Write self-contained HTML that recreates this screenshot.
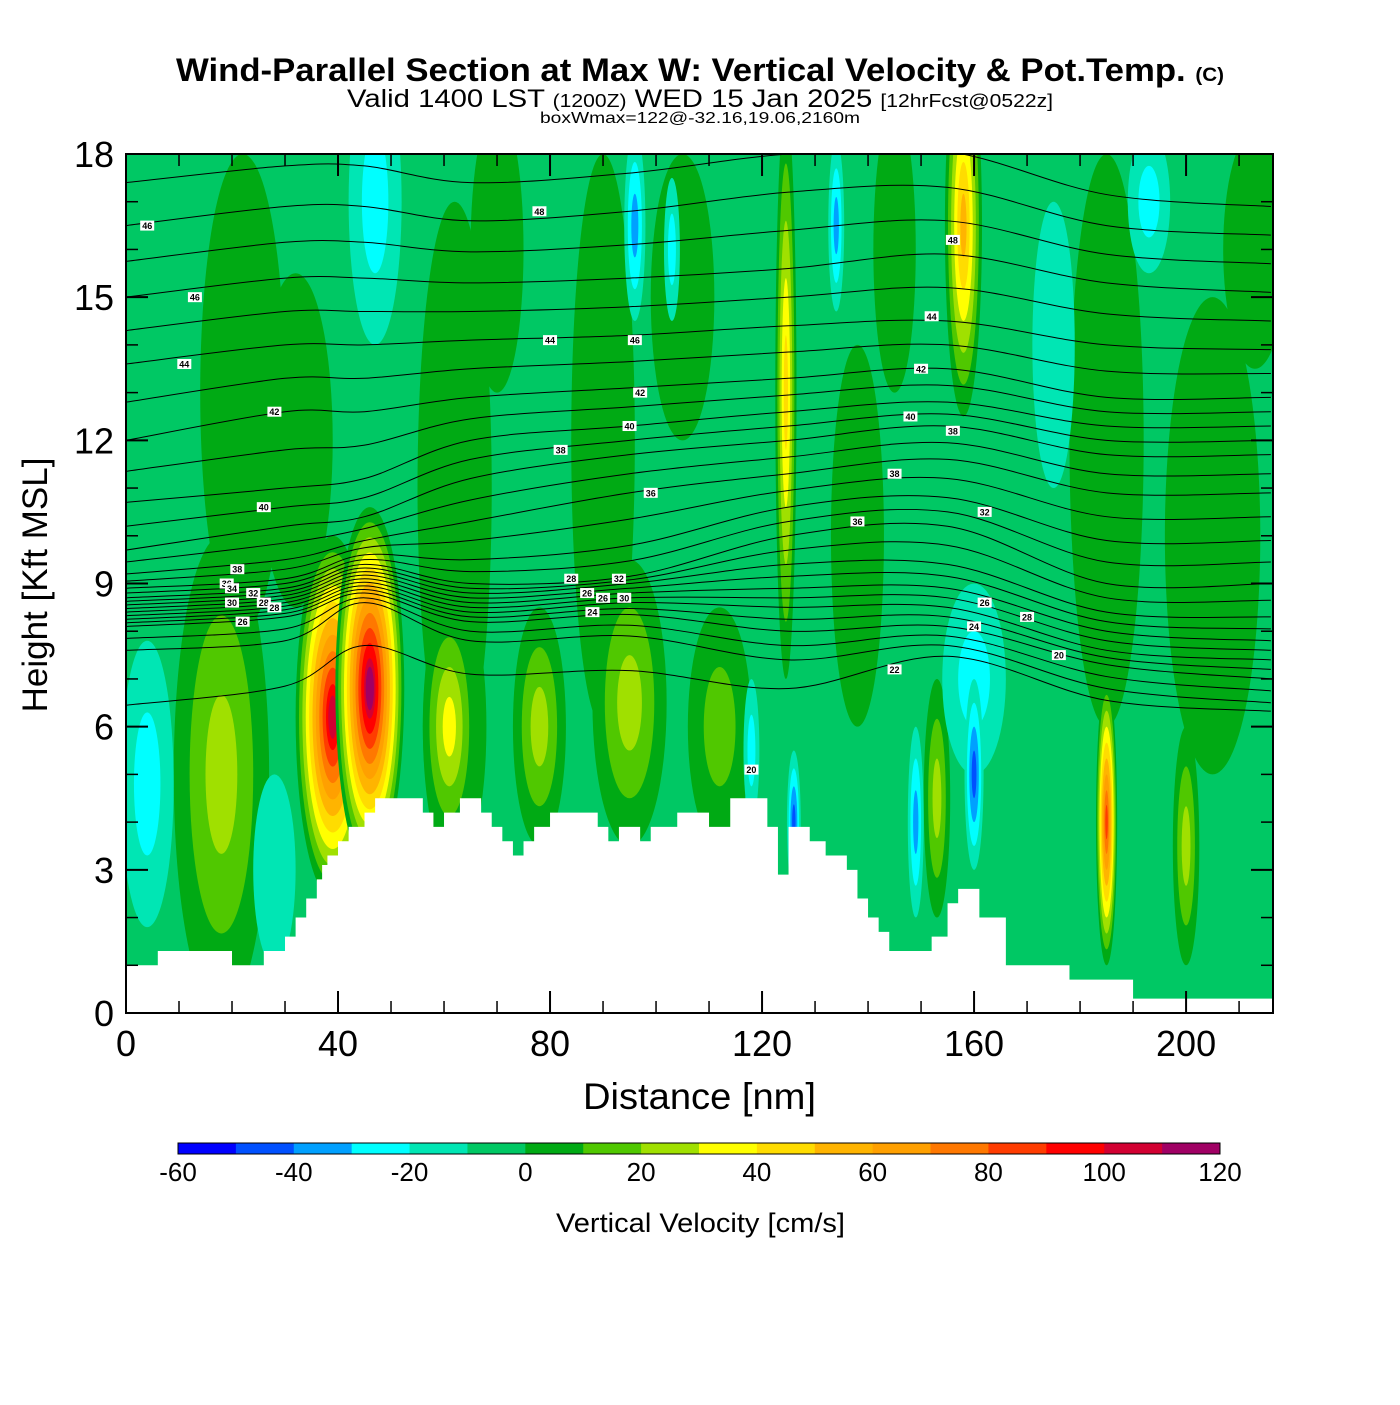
<!DOCTYPE html>
<html><head><meta charset="utf-8"><style>
body{margin:0;background:#fff}
svg text{font-family:"Liberation Sans",sans-serif}
</style></head><body>
<svg id="chart" width="1400" height="1400" viewBox="0 0 1400 1400" xmlns="http://www.w3.org/2000/svg">
<rect width="1400" height="1400" fill="#fff"/>
<text x="176" y="81" textLength="1048" lengthAdjust="spacingAndGlyphs" font-size="32" font-weight="bold">Wind-Parallel Section at Max W: Vertical Velocity &amp; Pot.Temp. <tspan font-size="19">(C)</tspan></text>
<text x="347" y="107" textLength="706" lengthAdjust="spacingAndGlyphs" font-size="25">Valid 1400 LST <tspan font-size="18">(1200Z)</tspan> WED 15 Jan 2025 <tspan font-size="18">[12hrFcst@0522z]</tspan></text>
<text x="540" y="123" textLength="320" lengthAdjust="spacingAndGlyphs" font-size="16">boxWmax=122@-32.16,19.06,2160m</text>
<defs><clipPath id="pc"><rect x="126" y="154" width="1147" height="859"/></clipPath></defs>
<g id="field" clip-path="url(#pc)"></g>
<g id="theta" clip-path="url(#pc)"></g>
<g id="terrain"></g>
<g id="labels"></g>
<g id="axes"></g>
<g id="cbar"></g>
<text x="583" y="1109" textLength="233" lengthAdjust="spacingAndGlyphs" font-size="37">Distance [nm]</text>
<text transform="translate(47,585) rotate(-90)" text-anchor="middle" font-size="35">Height [Kft MSL]</text>
<text x="556" y="1232" textLength="289" lengthAdjust="spacingAndGlyphs" font-size="27">Vertical Velocity [cm/s]</text>
</svg>
<script>
const colorLevels=[-60,-50,-40,-30,-20,-10,0,10,20,30,40,50,60,70,80,90,100,110,120];
const colors=["#0000ff","#0050ff","#00a0ff","#00ffff","#00e6b4","#00c864","#00aa14","#50c800","#a0e000","#ffff00","#ffdc00","#ffb400","#ffa000","#ff7800","#ff3c00","#ff0000","#d20032","#a00064"];
// blobs: x nm, z kft, half-width nm, half-height kft, peak cm/s
const blobX=[22,32,62,90,105,138,185,205,213,18,62,78,95,112,4,39,46,61,124.5,118,126,134,96,103,158,149,153,160,185,200,47,193,160,28,70,145,175];
const blobZ=[13,12,11,12,15,10,12,10,16,5,6,6,6.5,6,4.8,6.2,6.8,6,13,5.5,4,16.5,16.5,16,16.5,4,4.5,5,4,3.5,17,17,7,3,16,16,14];
const blobRX=[8,7,7,6,6,5,7,9,6,9,6,5,7,6,5,7,6.5,5,2,1.5,1.3,1.5,2,1.5,3.5,1.5,2.5,1.8,2,2.5,5,4,6,4,5,4,4];
const blobRZ=[5,3.5,6,6,3,4,6,5,2.5,5,3,2.5,3,2.5,3,3.8,3.8,2.5,6,1.5,1.5,1.8,2,1.5,4,2,2.5,2,3,2.5,3,1.5,2,2,3,3,3];
const blobV=[0,0,0,0,0,0,0,0,0,20,10,20,20,10,-30,100,110,30,40,-30,-50,-40,-40,-30,50,-40,20,-50,80,20,-30,-30,-30,-20,0,0,-20];
// terrain steps
const terrX=[0,6,20,26,30,32,34,36,37,38,40,42,45,47,50,56,58,60,63,67,69,71,73,75,77,80,89,91,93,97,99,104,110,114,121,123,125,129,132,136,138,140,142,144,152,155,157,161,166,178,190,217];
const terrZ=[1.0,1.3,1.0,1.3,1.6,2.0,2.4,2.8,3.1,3.3,3.6,3.9,4.2,4.5,4.5,4.2,3.9,4.2,4.5,4.2,3.9,3.6,3.3,3.6,3.9,4.2,3.9,3.6,3.9,3.6,3.9,4.2,3.9,4.5,3.9,2.9,3.9,3.6,3.3,3.0,2.4,2.0,1.7,1.3,1.6,2.3,2.6,2.0,1.0,0.7,0.3,0.3];
// potential temperature soundings
const sndX=[0,30,45,65,95,125,155,185,216];
const sndTheta=[18,20,22,24,26,28,30,32,34,36,38,40,42,44,46,48,50];
const sndZ=[
[0,3,7.6,8.1,8.25,8.4,8.55,8.7,8.9,9.2,9.7,10.7,12.0,13.6,15.0,16.5,18.3],
[0,4,7.8,8.3,8.45,8.6,8.75,8.9,9.1,9.5,10.2,11.0,12.6,14.0,15.4,16.9,18.6],
[0,5,8.6,8.8,8.95,9.1,9.25,9.4,9.6,9.9,10.4,11.2,12.6,14.0,15.4,16.9,18.6],
[0,5,7.8,8.2,8.4,8.6,8.8,9.0,9.5,10.3,11.2,12.0,12.9,14.1,15.3,16.6,18.2],
[0,5,7.9,8.35,8.6,8.8,9.0,9.15,9.8,10.9,11.7,12.3,13.1,14.2,15.4,16.8,18.4],
[0,5,7.4,8.0,8.5,8.9,9.4,10.0,10.6,11.3,12.0,12.6,13.3,14.4,15.6,17.2,18.8],
[5.4,6.8,7.7,8.1,8.5,8.9,9.4,10.2,10.8,11.6,12.3,12.8,13.5,14.5,15.9,17.3,18.8],
[4,5.8,6.8,7.3,7.6,8.0,8.4,9.0,9.9,10.9,11.7,12.3,12.9,14.0,15.3,16.5,17.8],
[3.5,5.8,6.5,7.0,7.4,7.8,8.3,9.0,9.9,10.9,11.7,12.3,12.9,13.9,15.1,16.3,17.5]];
const thetaLevels=[21.5,22,23,24,25,26,27,28,29,30,31,32,33,34,35,36,37,38,39,40,41,42,43,44,45,46,47,48,49];
const labX=[4,13,11,28,26,21,19,20,24,20,26,28,22,78,80,82,84,87,90,96,97,95,99,93,94,88,118,138,145,156,152,150,148,145,156,162,162,160,170,176];
const labZ=[16.5,15,13.6,12.6,10.6,9.3,9.0,8.9,8.8,8.6,8.6,8.5,8.2,16.8,14.1,11.8,9.1,8.8,8.7,14.1,13.0,12.3,10.9,9.1,8.7,8.4,5.1,10.3,7.2,16.2,14.6,13.5,12.5,11.3,12.2,10.5,8.6,8.1,8.3,7.5];
const labT=["46","46","44","42","40","38","36","34","32","30","28","28","26","48","44","38","28","26","26","46","42","40","36","32","30","24","20","36","22","48","44","42","40","38","38","32","26","24","28","20"];

const NS="http://www.w3.org/2000/svg";
const X=d=>126+d*(1147/216.4), Y=z=>1013-z*(859/18);
function mk(tag,attrs,parent){const e=document.createElementNS(NS,tag);for(const k in attrs)e.setAttribute(k,attrs[k]);parent.appendChild(e);return e;}
const colorFor=v=>{let i=Math.floor((v+60)/10);i=Math.max(0,Math.min(17,i));return colors[i];};

const field=document.getElementById('field');
const bg=mk('rect',{x:126,y:154,width:1147,height:859,fill:colors[5]},field);


const order=blobV.map((v,i)=>i).sort((a,b)=>Math.abs(blobV[a])-Math.abs(blobV[b]));
order.forEach(i=>{
  const v=blobV[i];let levs=[];
  if(v>=0){for(let l=0;l<=v;l+=10)levs.push(l);}
  else{for(let l=-20;l>=v;l-=10)levs.push(l);}
  levs.forEach((l,k)=>{
    const s=v>=0?1-l/(v+10):1-(Math.abs(l)-20)/(Math.abs(v)-10);
    const sc=Math.max(0.12,s);
    const e=mk('ellipse',{cx:X(blobX[i]),cy:Y(blobZ[i]),rx:(blobRX[i]*sc)*(1147/216.4),ry:(blobRZ[i]*sc)*(859/18),fill:colorFor(l)},field);
    
    
  });
});
const th=document.getElementById('theta');
function zAt(a,t){const z=sndZ[a];for(let j=0;j<sndTheta.length-1;j++){if(t>=sndTheta[j]&&t<=sndTheta[j+1]){const f=(t-sndTheta[j])/(sndTheta[j+1]-sndTheta[j]);return z[j]+f*(z[j+1]-z[j]);}}return null;}
thetaLevels.forEach(t=>{
  const pts=sndX.map((x,a)=>[X(x),Y(zAt(a,t))]);
  let d='M'+pts[0][0]+','+pts[0][1];
  for(let j=0;j<pts.length-1;j++){
    const p0=pts[Math.max(0,j-1)],p1=pts[j],p2=pts[j+1],p3=pts[Math.min(pts.length-1,j+2)];
    const c1=[p1[0]+(p2[0]-p0[0])/6,p1[1]+(p2[1]-p0[1])/6],c2=[p2[0]-(p3[0]-p1[0])/6,p2[1]-(p3[1]-p1[1])/6];
    d+=` C${c1[0]},${c1[1]} ${c2[0]},${c2[1]} ${p2[0]},${p2[1]}`;
  }
  const p=mk('path',{d:d,fill:'none',stroke:'#000','stroke-width':1},th);
  
  
});
let td='M'+X(0)+','+Y(0);
for(let i=0;i<terrX.length-1;i++){td+=` L${X(terrX[i])},${Y(terrZ[i])} L${X(terrX[i+1])},${Y(terrZ[i])}`;}
td+=` L${X(216.4)},${Y(0)} Z`;
const tp=mk('path',{d:td,fill:'#fff'},document.getElementById('terrain'));


const lg=document.getElementById('labels');
labX.forEach((x,i)=>{
  const g=mk('g',{},lg);
  
  
  mk('rect',{x:X(x)-7,y:Y(labZ[i])-5,width:14,height:10,fill:'#fff'},g);
  const t=mk('text',{x:X(x),y:Y(labZ[i])+3.5,'text-anchor':'middle','font-size':9,'font-weight':'bold'},g);t.textContent=labT[i];
});
const ax=document.getElementById('axes');
const fr=mk('rect',{x:126,y:154,width:1147,height:859,fill:'none',stroke:'#000','stroke-width':2},ax);


for(let d=0;d<=210;d+=10){const maj=d%40===0,L=maj?22:12;
  mk('line',{x1:X(d),y1:1013,x2:X(d),y2:1013-L,stroke:'#000','stroke-width':maj?2:1.5},ax);
  mk('line',{x1:X(d),y1:154,x2:X(d),y2:154+L,stroke:'#000','stroke-width':maj?2:1.5},ax);
  if(maj){const t=mk('text',{x:X(d),y:1056,'text-anchor':'middle','font-size':36},ax);t.textContent=d;}
}
for(let z=0;z<=18;z++){const maj=z%3===0,L=maj?22:12;
  mk('line',{x1:126,y1:Y(z),x2:126+L,y2:Y(z),stroke:'#000','stroke-width':maj?2:1.5},ax);
  mk('line',{x1:1273,y1:Y(z),x2:1273-L,y2:Y(z),stroke:'#000','stroke-width':maj?2:1.5},ax);
  if(maj){const t=mk('text',{x:114,y:Y(z)+13,'text-anchor':'end','font-size':36},ax);t.textContent=z;}
}
const cb=document.getElementById('cbar');const cw=(1220-178)/18;
colors.forEach((c,i)=>{const r=mk('rect',{x:178+i*cw,y:1143,width:cw+0.5,height:11,fill:c},cb);});
mk('rect',{x:178,y:1143,width:1042,height:11,fill:'none',stroke:'#000','stroke-width':1},cb);
colorLevels.forEach((v,i)=>{if(v%20===0){const t=mk('text',{x:178+i*cw,y:1181,'text-anchor':'middle','font-size':26},cb);t.textContent=v;}});
</script>
</body></html>
